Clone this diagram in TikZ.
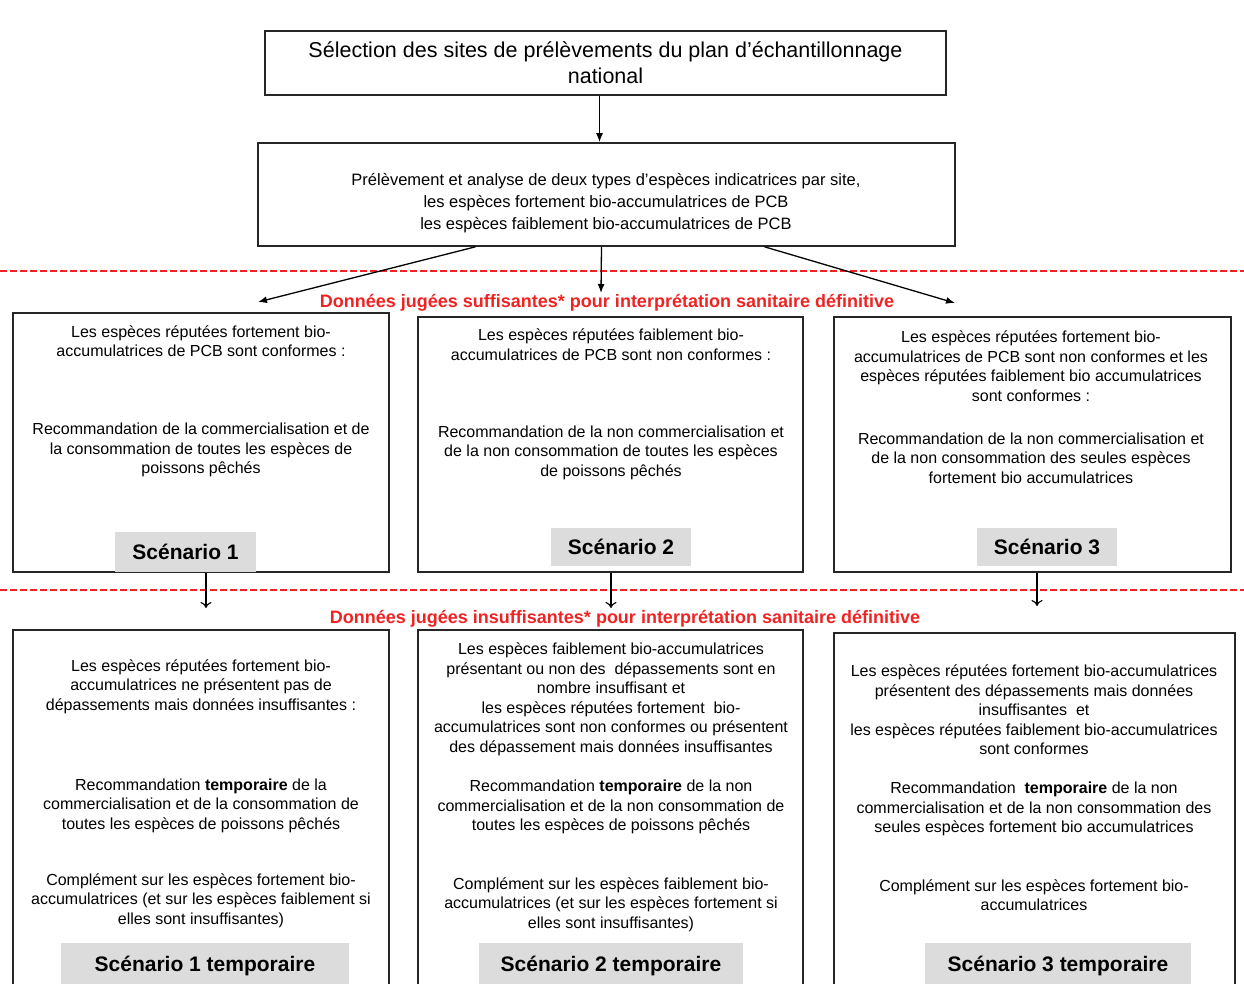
\documentclass[tikz,border=0pt]{standalone}
\usepackage{fontspec}
\setmainfont{Liberation Sans}
\usepackage{xcolor}
\usetikzlibrary{positioning,arrows.meta}
\definecolor{sepred}{RGB}{240,35,35}
\definecolor{labgray}{RGB}{220,220,220}

\begin{document}
\begin{tikzpicture}[x=1pt, y=-1pt,
  box/.style={draw=black!85, line width=1.6pt, inner sep=0pt},
  txt/.style={align=center, inner sep=0pt, font=\fontsize{16}{19.5}\selectfont},
  scen/.style={fill=labgray, inner sep=0pt, font=\fontsize{21}{24}\selectfont\bfseries},
  redlabel/.style={text=sepred, inner sep=0pt, font=\fontsize{18}{21}\selectfont\bfseries},
  sep/.style={draw=sepred, line width=1.2pt, dash pattern=on 7pt off 3pt},
  fillarrow/.style={-{Latex[length=9pt,width=7pt]}, line width=1.3pt},
  openarrow/.style={-{To[length=6pt,width=11pt]}, line width=1.1pt}]
\clip (0,0) rectangle (1244,983);

% top of the chart
\node[box, minimum width=681pt, minimum height=64pt, align=center,
  font=\fontsize{21.5}{26}\selectfont] (select) at (605.5,63)
  {Sélection des sites de prélèvements du plan d'échantillonnage\\national};
\node[box, minimum width=697pt, minimum height=103pt] (analyse) at (606.5,194.5) {};
\node[txt, font=\fontsize{16.5}{22}\selectfont] (analysetxt) at (606,203)
  {Prélèvement et analyse de deux types d'espèces indicatrices par site,\\
   les espèces fortement bio-accumulatrices de PCB\\
   les espèces faiblement bio-accumulatrices de PCB};

% separators
\draw[sep] (0,271) -- (1244,271);
\draw[sep] (0,590) -- (1244,590);
\node[redlabel] (suff) at (607,303) {Données jugées suffisantes* pour interprétation sanitaire définitive};
\node[redlabel] (insuff) at (625,619) {Données jugées insuffisantes* pour interprétation sanitaire définitive};

% scenarios
\node[box, minimum width=376pt, minimum height=259pt] (sA) at (201,442.5) {};
\node[box, minimum width=385pt, minimum height=255pt] (sB) at (610.5,444.5) {};
\node[box, minimum width=397pt, minimum height=255pt] (sC) at (1032.5,444.5) {};

\node[txt] (a1) at (201,341) {Les espèces réputées fortement bio-\\accumulatrices de PCB sont conformes :};
\node[txt] (a2) at (201,450) {Recommandation de la commercialisation et de\\la consommation de toutes les espèces de\\poissons pêchés};
\node[txt] (b1) at (611,344.5) {Les espèces réputées faiblement bio-\\accumulatrices de PCB sont non conformes :};
\node[txt] (b2) at (611,452.5) {Recommandation de la non commercialisation et\\de la non consommation de toutes les espèces\\de poissons pêchés};
\node[txt] (c1) at (1031,366) {Les espèces réputées fortement bio-\\accumulatrices de PCB sont non conformes et les\\espèces réputées faiblement bio accumulatrices\\sont conformes :};
\node[txt] (c2) at (1031,458) {Recommandation de la non commercialisation et\\de la non consommation des seules espèces\\fortement bio accumulatrices};

\node[scen, minimum width=141pt, minimum height=40pt] (scen1) at (185.5,552) {Scénario 1};
\node[scen, minimum width=140pt, minimum height=38pt] (scen2) at (621,547) {Scénario 2};
\node[scen, minimum width=140pt, minimum height=38pt] (scen3) at (1047,547) {Scénario 3};

% temporary scenarios
\node[box, minimum width=376pt, minimum height=370pt] (sD) at (201,815) {};
\node[box, minimum width=385pt, minimum height=370pt] (sE) at (610.5,815) {};
\node[box, minimum width=401pt, minimum height=367pt] (sF) at (1034.5,816.5) {};

\node[txt] (d1) at (201,686.5) {Les espèces réputées fortement bio-\\accumulatrices ne présentent pas de\\dépassements mais données insuffisantes :};
\node[txt] (d2) at (201,805.5) {Recommandation \textbf{temporaire} de la\\commercialisation et de la consommation de\\toutes les espèces de poissons pêchés};
\node[txt] (d3) at (201,900.5) {Complément sur les espèces fortement bio-\\accumulatrices (et sur les espèces faiblement si\\elles sont insuffisantes)};
\node[txt] (e1) at (611,699.5) {Les espèces faiblement bio-accumulatrices\\présentant ou non des\ \ dépassements sont en\\nombre insuffisant et\\les espèces réputées fortement\ \ bio-\\accumulatrices sont non conformes ou présentent\\des dépassement mais données insuffisantes};
\node[txt] (e2) at (611,807) {Recommandation \textbf{temporaire} de la non\\commercialisation et de la non consommation de\\toutes les espèces de poissons pêchés};
\node[txt] (e3) at (611,904.5) {Complément sur les espèces faiblement bio-\\accumulatrices (et sur les espèces fortement si\\elles sont insuffisantes)};
\node[txt] (f1) at (1034,710) {Les espèces réputées fortement bio-accumulatrices\\présentent des dépassements mais données\\insuffisantes\ \ et\\les espèces réputées faiblement bio-accumulatrices\\sont conformes};
\node[txt] (f2) at (1034,809) {Recommandation\ \ \textbf{temporaire} de la non\\commercialisation et de la non consommation des\\seules espèces fortement bio accumulatrices};
\node[txt] (f3) at (1034,895) {Complément sur les espèces fortement bio-\\accumulatrices};

\node[scen, minimum width=288pt, minimum height=46pt] (scen1t) at (205,966) {Scénario 1 temporaire};
\node[scen, minimum width=264pt, minimum height=46pt] (scen2t) at (611,966) {Scénario 2 temporaire};
\node[scen, minimum width=266pt, minimum height=46pt] (scen3t) at (1058,966) {Scénario 3 temporaire};

% arrows
\coordinate (fA) at (258,302);
\coordinate (fB) at (601,293);
\coordinate (fC) at (955,303);
\coordinate (dA) at (206,608);
\coordinate (dB) at (611,608);
\coordinate (dC) at (1037,606);
\draw[fillarrow] ([xshift=-6pt]select.south) -- ([xshift=-7pt]analyse.north);
\draw[fillarrow] ([xshift=-131pt]analyse.south) -- (fA);
\draw[fillarrow] ([xshift=-5pt]analyse.south) -- (fB);
\draw[fillarrow] ([xshift=158pt]analyse.south) -- (fC);
\draw[openarrow] (dA |- sA.south) -- (dA);
\draw[openarrow] (dB |- sB.south) -- (dB);
\draw[openarrow] (dC |- sC.south) -- (dC);
\end{tikzpicture}
\end{document}
